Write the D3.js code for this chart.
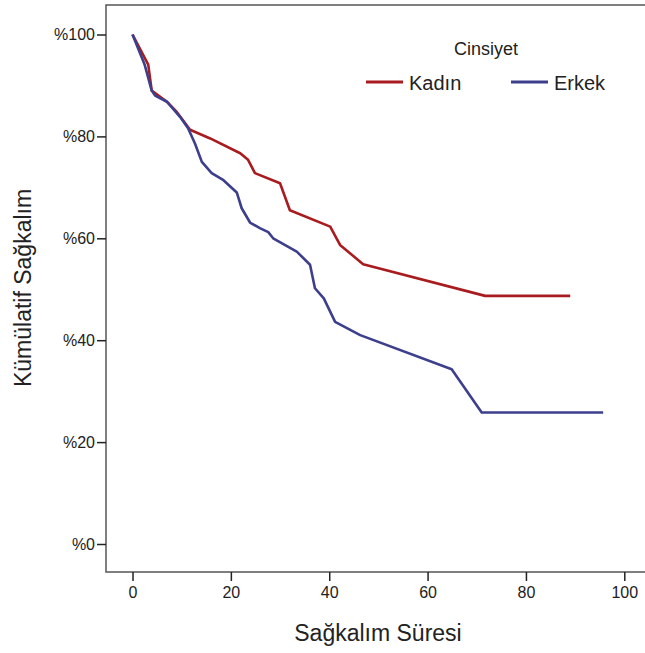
<!DOCTYPE html>
<html>
<head>
    <title>Kümülatif Sağkalım</title>
    <script src="https://d3js.org/d3.v7.min.js"></script>
    <style>
        * {
            margin: 0;
            padding: 0;
        }
        body {
            background: #fff;
        }
        text {
            font-family: "Liberation Sans", Arial, sans-serif;
            fill: #222;
        }
    </style>
</head>
<body>
<div id="chart"></div>

<script>
    // Sağkalım süresi ve kümülatif sağkalım oranları
    const kadinTime = [0, 3.2, 3.9, 7.0, 9.0, 11.7, 15.8, 21.9, 23.5, 24.9, 30.0, 32.0, 40.2, 42.2, 46.9, 71.7, 89.0];
    const kadinSurv = [1.00, 0.941, 0.890, 0.868, 0.848, 0.813, 0.796, 0.767, 0.754, 0.728, 0.708, 0.655, 0.623, 0.587, 0.549, 0.487, 0.487];

    const erkekTime = [0, 2.5, 3.9, 4.6, 7.0, 9.7, 11.3, 12.7, 14.1, 16.1, 18.5, 21.2, 22.2, 23.9, 25.9, 27.6, 28.6, 33.4, 36.1, 37.1, 38.9, 41.2, 46.3, 64.9, 71.0, 95.7];
    const erkekSurv = [1.00, 0.940, 0.890, 0.880, 0.868, 0.838, 0.816, 0.786, 0.750, 0.728, 0.714, 0.690, 0.659, 0.631, 0.620, 0.612, 0.600, 0.574, 0.548, 0.502, 0.482, 0.436, 0.410, 0.343, 0.258, 0.258];

    const xTicks = [0, 20, 40, 60, 80, 100];
    const yTicks = [0, 0.2, 0.4, 0.6, 0.8, 1.0];

    const groups = ["Kadın", "Erkek"];
    const colors = ["#a81c1f", "#3d3f8d"];

    const width = 645;
    const height = 653;
    const frame = {left: 106, right: 652, top: 5, bottom: 572};

    const x = d3.scaleLinear().domain([0, 100]).range([132.5, 624.3]);
    const y = d3.scaleLinear().domain([0, 1]).range([544, 34.5]);

    const svg = d3.select("#chart").append("svg")
        .attr("width", width)
        .attr("height", height);

    // çerçeve
    svg.append("rect")
        .attr("x", frame.left)
        .attr("y", frame.top)
        .attr("width", frame.right - frame.left)
        .attr("height", frame.bottom - frame.top)
        .attr("fill", "none")
        .attr("stroke", "#555")
        .attr("stroke-width", 1.5);

    const xAxis = svg.append("g")
        .attr("transform", `translate(0,${frame.bottom})`)
        .call(d3.axisBottom(x).tickValues(xTicks).tickSize(9).tickPadding(6));
    xAxis.select(".domain").remove();

    const yAxis = svg.append("g")
        .attr("transform", `translate(${frame.left},0)`)
        .call(d3.axisLeft(y).tickValues(yTicks).tickSize(9).tickPadding(2)
            .tickFormat(d => "%" + Math.round(d * 100)));
    yAxis.select(".domain").remove();

    svg.selectAll(".tick line").attr("stroke", "#222").attr("stroke-width", 1.5);
    svg.selectAll(".tick text")
        .style("font-family", "'Liberation Sans', Arial, sans-serif")
        .style("font-size", "16px")
        .attr("fill", "#222");

    // eğriler
    const line = d3.line()
        .x(d => x(d[0]))
        .y(d => y(d[1]));

    const series = [
        d3.zip(kadinTime, kadinSurv),
        d3.zip(erkekTime, erkekSurv)
    ];

    svg.selectAll(".curve")
        .data(series)
        .join("path")
        .attr("class", "curve")
        .attr("d", line)
        .attr("fill", "none")
        .attr("stroke", (d, i) => colors[i])
        .attr("stroke-width", 2.6)
        .attr("stroke-linejoin", "round");

    // eksen başlıkları
    svg.append("text")
        .attr("x", 378)
        .attr("y", 641)
        .attr("text-anchor", "middle")
        .style("font-size", "23px")
        .text("Sağkalım Süresi");

    svg.append("text")
        .attr("transform", "translate(31,288) rotate(-90)")
        .attr("text-anchor", "middle")
        .style("font-size", "23px")
        .text("Kümülatif Sağkalım");

    // lejant
    svg.append("text")
        .attr("x", 486)
        .attr("y", 55)
        .attr("text-anchor", "middle")
        .style("font-size", "18px")
        .text("Cinsiyet");

    const legend = svg.selectAll(".legend")
        .data(groups)
        .join("g")
        .attr("class", "legend")
        .attr("transform", (d, i) => `translate(${366 + i * 145},82)`);

    legend.append("line")
        .attr("x1", 0)
        .attr("x2", 37)
        .attr("stroke", (d, i) => colors[i])
        .attr("stroke-width", 3);

    legend.append("text")
        .attr("x", 43)
        .attr("y", 8)
        .style("font-size", "20px")
        .text(d => d);
</script>
</body>
</html>
